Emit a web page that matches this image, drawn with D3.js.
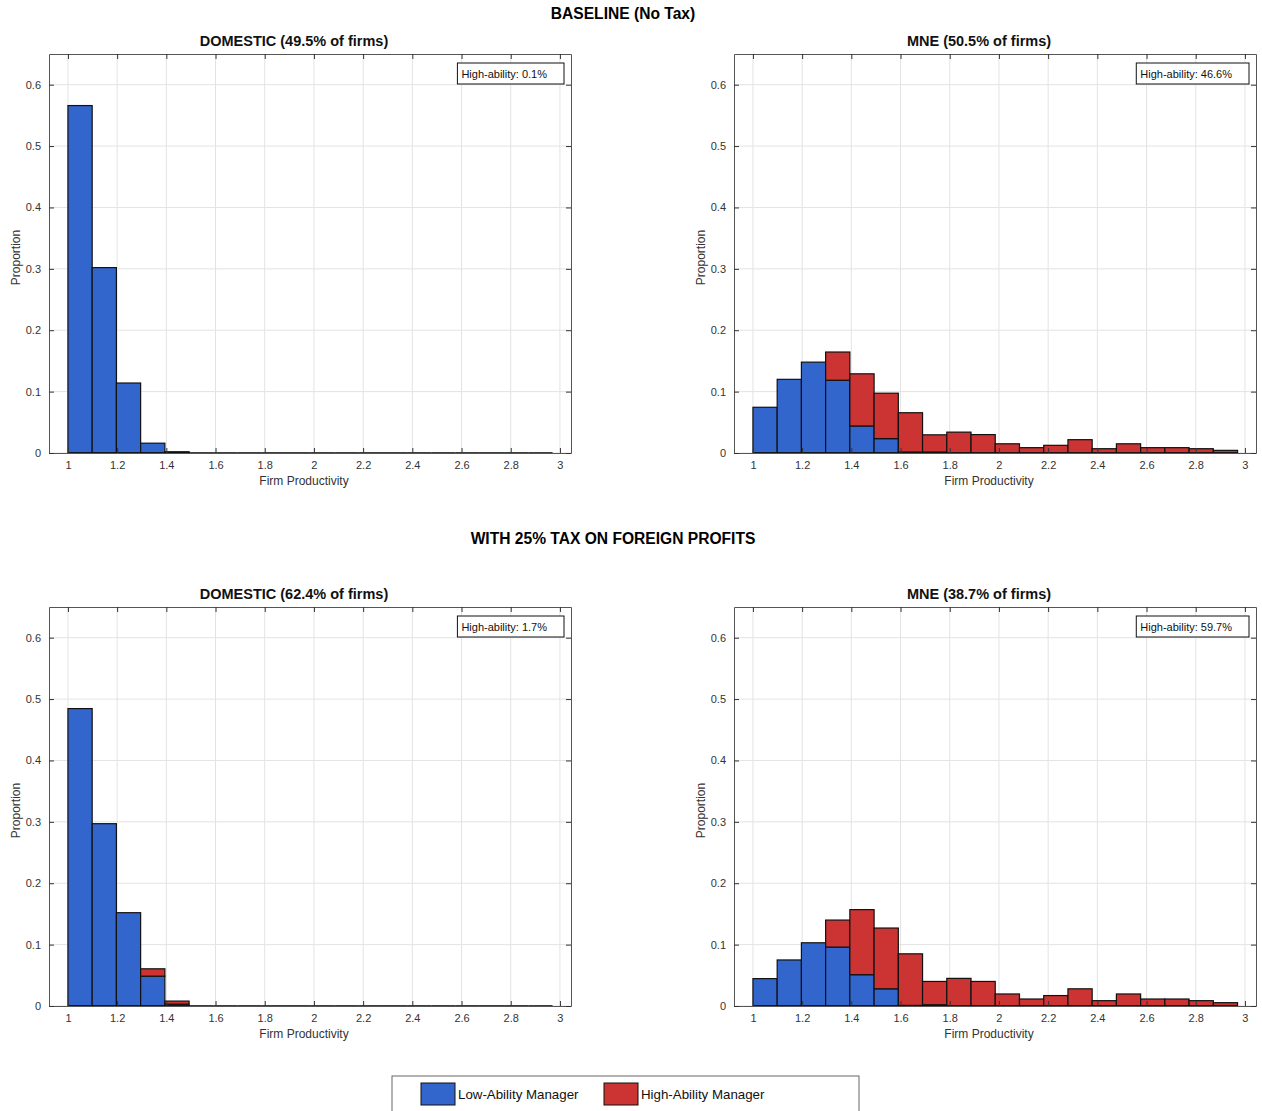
<!DOCTYPE html>
<html>
<head>
<meta charset="utf-8">
<script src="https://cdn.jsdelivr.net/npm/d3@7"></script>
<style>
  body { margin: 0; background: #fff; }
  svg { font-family: "Liberation Sans", Arial, Helvetica, sans-serif; }
</style>
</head>
<body>
<div id="chart"></div>
<script>
// histogram bins: 20 bins from 1 to 2.97
var binEdges = d3.range(21).map(function(i){ return 1 + i * 0.0985; });

// baseline, domestic
var baseDomLow  = [0.566, 0.302, 0.114, 0.016, 0.001, 0, 0, 0, 0, 0, 0, 0, 0, 0, 0, 0, 0, 0, 0, 0];
var baseDomHigh = [0, 0, 0, 0, 0.001, 0, 0, 0, 0, 0, 0, 0, 0, 0, 0, 0, 0, 0, 0, 0];
// baseline, MNE
var baseMneLow  = [0.0745, 0.120, 0.148, 0.1185, 0.044, 0.0234, 0.0016, 0.0016, 0, 0, 0, 0, 0, 0, 0, 0, 0, 0, 0, 0];
var baseMneHigh = [0, 0, 0, 0.046, 0.085, 0.074, 0.064, 0.028, 0.034, 0.030, 0.015, 0.0087, 0.0125, 0.0217, 0.007, 0.015, 0.0087, 0.0087, 0.007, 0.0043];
// tax, domestic
var taxDomLow  = [0.4845, 0.297, 0.152, 0.0486, 0.003, 0, 0, 0, 0, 0, 0, 0, 0, 0, 0, 0, 0, 0, 0, 0];
var taxDomHigh = [0, 0, 0, 0.012, 0.005, 0, 0, 0, 0, 0, 0, 0, 0, 0, 0, 0, 0, 0, 0, 0];
// tax, MNE
var taxMneLow  = [0.0446, 0.075, 0.103, 0.096, 0.051, 0.028, 0.001, 0.002, 0, 0, 0, 0, 0, 0, 0, 0, 0, 0, 0, 0];
var taxMneHigh = [0, 0, 0, 0.044, 0.106, 0.099, 0.084, 0.038, 0.045, 0.040, 0.0196, 0.0114, 0.017, 0.028, 0.0087, 0.0196, 0.0114, 0.0114, 0.0087, 0.0054];

var xTicks = d3.range(1, 3.01, 0.2);
var yTicks = [0, 0.1, 0.2, 0.3, 0.4, 0.5, 0.6];

var panels = [
  { title: "DOMESTIC (49.5% of firms)", note: "High-ability: 0.1%", low: baseDomLow, high: baseDomHigh, left: 49, top: 54 },
  { title: "MNE (50.5% of firms)", note: "High-ability: 46.6%", low: baseMneLow, high: baseMneHigh, left: 734, top: 54 },
  { title: "DOMESTIC (62.4% of firms)", note: "High-ability: 1.7%", low: taxDomLow, high: taxDomHigh, left: 49, top: 607 },
  { title: "MNE (38.7% of firms)", note: "High-ability: 59.7%", low: taxMneLow, high: taxMneHigh, left: 734, top: 607 }
];

var width = 1262, height = 1111;
var pw = 522, ph = 399;
var blue = "#3366cc", red = "#cc3333";

var svg = d3.select("#chart").append("svg")
    .attr("width", width)
    .attr("height", height);

svg.append("text").attr("x", 623).attr("y", 19).attr("text-anchor", "middle")
    .style("font-size", "15.6px").style("font-weight", "bold").text("BASELINE (No Tax)");
svg.append("text").attr("x", 613).attr("y", 544).attr("text-anchor", "middle")
    .style("font-size", "15.6px").style("font-weight", "bold").text("WITH 25% TAX ON FOREIGN PROFITS");

panels.forEach(function(p){
  var x = d3.scaleLinear().domain([0.923, 3.045]).range([0, pw]);
  var y = d3.scaleLinear().domain([0, 0.65]).range([ph, 0]);
  var g = svg.append("g").attr("transform", "translate(" + p.left + "," + p.top + ")");

  // grid
  g.selectAll(".gx").data(xTicks).enter().append("line")
      .attr("x1", function(d){ return x(d); }).attr("x2", function(d){ return x(d); })
      .attr("y1", 0).attr("y2", ph)
      .attr("stroke", "#e3e3e3").attr("stroke-width", 1);
  g.selectAll(".gy").data(yTicks).enter().append("line")
      .attr("x1", 0).attr("x2", pw)
      .attr("y1", function(d){ return y(d); }).attr("y2", function(d){ return y(d); })
      .attr("stroke", "#e3e3e3").attr("stroke-width", 1);

  var bins = p.low.map(function(v, i){
    return { x0: binEdges[i], x1: binEdges[i + 1], low: v, high: p.high[i] };
  });

  // low-ability bars
  g.selectAll(".low").data(bins).enter().append("rect")
      .attr("x", function(d){ return x(d.x0); })
      .attr("width", function(d){ return x(d.x1) - x(d.x0); })
      .attr("y", function(d){ return y(d.low); })
      .attr("height", function(d){ return y(0) - y(d.low); })
      .attr("fill", blue).attr("stroke", "#111").attr("stroke-width", 1.2);

  // high-ability bars stacked on top
  g.selectAll(".high").data(bins).enter().append("rect")
      .attr("x", function(d){ return x(d.x0); })
      .attr("width", function(d){ return x(d.x1) - x(d.x0); })
      .attr("y", function(d){ return y(d.low + d.high); })
      .attr("height", function(d){ return y(d.low) - y(d.low + d.high); })
      .attr("fill", red).attr("stroke", "#111").attr("stroke-width", 1.2);

  // empty bins still draw their edge along the baseline
  g.selectAll(".base").data(bins).enter().append("line")
      .attr("x1", function(d){ return x(d.x0); })
      .attr("x2", function(d){ return x(d.x1); })
      .attr("y1", y(0)).attr("y2", y(0))
      .attr("stroke", "#111").attr("stroke-width", 1.6);

  // axes, ticks inside
  var xb = g.append("g").attr("transform", "translate(0," + ph + ")")
      .call(d3.axisBottom(x).tickValues(xTicks).tickSizeInner(-5).tickSizeOuter(0).tickPadding(8)
        .tickFormat(function(d){ return d3.format("~g")(+d.toFixed(1)); }));
  var xt = g.append("g").call(d3.axisTop(x).tickValues(xTicks).tickSizeInner(-5).tickSizeOuter(0).tickFormat(""));
  var yl = g.append("g").call(d3.axisLeft(y).tickValues(yTicks).tickSizeInner(-5).tickSizeOuter(0).tickPadding(8)
      .tickFormat(d3.format("~g")));
  var yr = g.append("g").attr("transform", "translate(" + pw + ",0)")
      .call(d3.axisRight(y).tickValues(yTicks).tickSizeInner(-5).tickSizeOuter(0).tickFormat(""));
  [xb, xt, yl, yr].forEach(function(a){
    a.select(".domain").attr("stroke", "#555");
    a.selectAll(".tick line").attr("stroke", "#333");
    a.selectAll("text").style("font-size", "11px").attr("fill", "#333");
  });

  g.append("text").attr("x", pw / 2 - 16).attr("y", -8).attr("text-anchor", "middle")
      .style("font-size", "14.5px").style("font-weight", "bold").attr("fill", "#111").text(p.title);
  g.append("text").attr("x", pw / 2 - 6).attr("y", ph + 32).attr("text-anchor", "middle")
      .style("font-size", "12px").attr("fill", "#333").text("Firm Productivity");
  g.append("text").attr("transform", "translate(" + (-29) + "," + (ph / 2 + 4) + ") rotate(-90)")
      .attr("text-anchor", "middle").style("font-size", "12px").attr("fill", "#333").text("Proportion");

  // annotation box
  var tb = g.append("g");
  var t = tb.append("text").attr("y", 24).style("font-size", "11px").attr("fill", "#111").text(p.note);
  var tw = t.node().getComputedTextLength();
  var bw = tw + 21;
  var bx = pw - 7 - bw;
  t.attr("x", bx + 4);
  tb.insert("rect", "text").attr("x", bx).attr("y", 9).attr("width", bw).attr("height", 21)
      .attr("fill", "#fff").attr("stroke", "#111").attr("stroke-width", 1);
});

// legend
var legendItems = ["Low-Ability Manager", "High-Ability Manager"];
var legendColors = [blue, red];
var lg = svg.append("g");
lg.append("rect").attr("x", 392).attr("y", 1076).attr("width", 467).attr("height", 40)
    .attr("fill", "#fff").attr("stroke", "#666");
var lx = [421, 604];
legendItems.forEach(function(name, i){
  lg.append("rect").attr("x", lx[i]).attr("y", 1083).attr("width", 34).attr("height", 22)
      .attr("fill", legendColors[i]).attr("stroke", "#111");
  lg.append("text").attr("x", lx[i] + 37).attr("y", 1099).style("font-size", "13.3px")
      .attr("fill", "#111").text(name);
});
</script>
</body>
</html>
